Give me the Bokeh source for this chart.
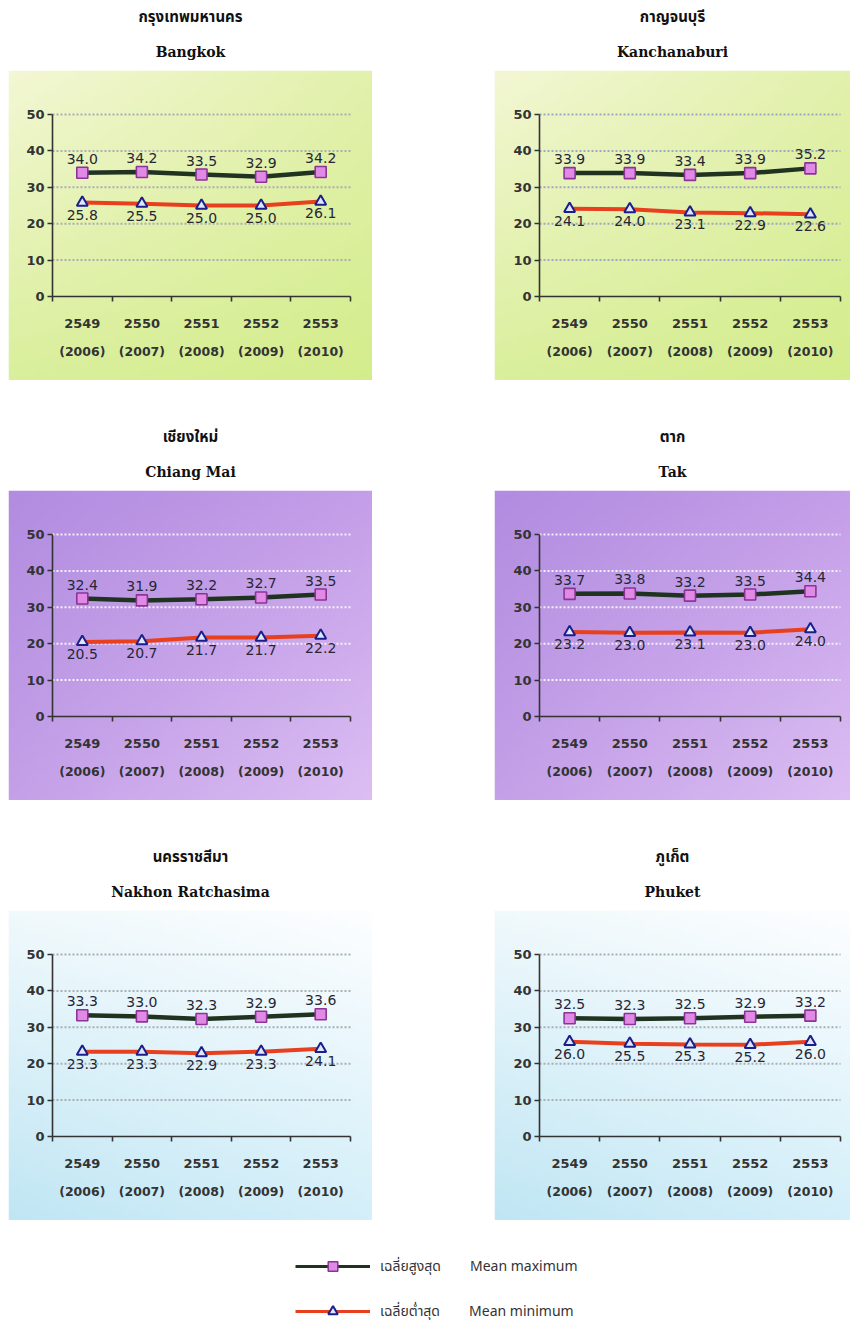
import numpy as np
from bokeh.plotting import figure
from bokeh.models import (Range1d, LinearAxis, FixedTicker, Title, ColumnDataSource,
                          Legend, LegendItem, Spacer)
from bokeh.layouts import column, row
from bokeh.core.properties import value
from bokeh.embed import file_html
from bokeh.resources import INLINE

# ---------------- data ----------------
x_pos = [1, 2, 3, 4, 5]
years_be = ["2549", "2550", "2551", "2552", "2553"]
years_ce = ["(2006)", "(2007)", "(2008)", "(2009)", "(2010)"]
y_ticks = [0, 10, 20, 30, 40, 50]

thai_names = ["กรุงเทพมหานคร", "กาญจนบุรี", "เชียงใหม่", "ตาก", "นครราชสีมา", "ภูเก็ต"]
eng_names = ["Bangkok", "Kanchanaburi", "Chiang Mai", "Tak", "Nakhon Ratchasima", "Phuket"]

bangkok_max = [34.0, 34.2, 33.5, 32.9, 34.2]
bangkok_min = [25.8, 25.5, 25.0, 25.0, 26.1]
kanchanaburi_max = [33.9, 33.9, 33.4, 33.9, 35.2]
kanchanaburi_min = [24.1, 24.0, 23.1, 22.9, 22.6]
chiangmai_max = [32.4, 31.9, 32.2, 32.7, 33.5]
chiangmai_min = [20.5, 20.7, 21.7, 21.7, 22.2]
tak_max = [33.7, 33.8, 33.2, 33.5, 34.4]
tak_min = [23.2, 23.0, 23.1, 23.0, 24.0]
nakhon_max = [33.3, 33.0, 32.3, 32.9, 33.6]
nakhon_min = [23.3, 23.3, 22.9, 23.3, 24.1]
phuket_max = [32.5, 32.3, 32.5, 32.9, 33.2]
phuket_min = [26.0, 25.5, 25.3, 25.2, 26.0]

legend_labels = ["เฉลี่ยสูงสุด        Mean maximum", "เฉลี่ยต่ำสุด        Mean minimum"]

# ---------------- styles ----------------
THAI_FONT = "Noto Sans Thai, Noto Sans, Loma, sans-serif"
EN_TITLE_FONT = "DejaVu Serif"
NUM_FONT = "DejaVu Sans"

GREEN = dict(tl=(243, 247, 212), tr=(226, 241, 172), bl=(218, 239, 156), br=(212, 237, 140))
PURPLE = dict(tl=(178, 140, 224), tr=(196, 158, 232), bl=(196, 160, 232), br=(220, 190, 243))
BLUE = dict(tl=(240, 249, 252), tr=(253, 254, 255), bl=(192, 230, 244), br=(212, 239, 249))

MAX_LINE = "#1f3320"
MIN_LINE = "#e8401e"
SQ_FILL, SQ_LINE = "#e08ae6", "#8a3596"
TRI_FILL, TRI_LINE = "#dfe6ff", "#1b1f8a"

BOX_H = 310
TITLE_H = 70


def gradient(c, n=64):
    u = np.linspace(0, 1, n)
    X, Y = np.meshgrid(u, u)  # row 0 = bottom
    tl, tr, bl, br = (np.array(c[k], dtype=float) for k in ("tl", "tr", "bl", "br"))
    img = np.empty((n, n), dtype=np.uint32)
    view = img.view(dtype=np.uint8).reshape((n, n, 4))
    for ch in range(3):
        v = (bl[ch] * (1 - X) * (1 - Y) + br[ch] * X * (1 - Y)
             + tl[ch] * (1 - X) * Y + tr[ch] * X * Y)
        view[:, :, ch] = np.clip(v, 0, 255).astype(np.uint8)
    view[:, :, 3] = 255
    return img


def style_axis(ax, size="12px"):
    ax.major_label_text_font = NUM_FONT
    ax.major_label_text_font_size = size
    ax.major_label_text_font_style = "bold"
    ax.major_label_text_color = "#333333"


def panel(thai, eng, vmax, vmin, colors, grid_color, width, ax_l, ax_r):
    ppx = (ax_r - ax_l) / 5.0
    x0 = 0.5 - ax_l / ppx
    x1 = 5.5 + (width - ax_r) / ppx
    y50_px, y0_px = 44, 226
    ppy = (y0_px - y50_px) / 50.0
    y1 = 50 + y50_px / ppy
    y0 = -(BOX_H - y0_px) / ppy

    p = figure(width=width, height=BOX_H + TITLE_H,
               x_range=Range1d(x0, x1), y_range=Range1d(y0, y1),
               x_axis_location=None, y_axis_location=None,
               toolbar_location=None, output_backend="svg",
               min_border_left=0, min_border_right=0, min_border_bottom=0,
               min_border_top=TITLE_H, outline_line_color=None,
               border_fill_color="white")
    p.xgrid.visible = False
    p.ygrid.visible = False

    p.image_rgba(image=[gradient(colors)], x=x0, y=y0, dw=x1 - x0, dh=y1 - y0)

    # titles
    p.add_layout(Title(text=eng, align="center", text_font=EN_TITLE_FONT,
                       text_font_size="14px", text_font_style="bold",
                       text_color="#111111", standoff=22), "above")
    p.add_layout(Title(text=thai, align="center", text_font=THAI_FONT,
                       text_font_size="15px", text_font_style="bold",
                       text_color="#111111", standoff=3), "above")

    # dotted gridlines from the axis to the right end
    gy = y_ticks[1:]
    p.segment(x0=[0.5] * len(gy), x1=[5.5] * len(gy), y0=gy, y1=gy,
              line_color=grid_color, line_width=2, line_dash="2 2")

    # axes
    yax = LinearAxis(fixed_location=0.5, bounds=(0, 50),
                     ticker=FixedTicker(ticks=y_ticks, minor_ticks=[]))
    yax.axis_line_color = "#333333"
    yax.axis_line_width = 1.6
    yax.major_tick_line_color = "#333333"
    yax.major_tick_line_width = 1.6
    yax.major_tick_out = 5
    yax.major_tick_in = 0
    yax.minor_tick_line_color = None
    yax.major_label_standoff = 3
    style_axis(yax, "13px")
    p.add_layout(yax, "left")

    minor = [0.5, 1.5, 2.5, 3.5, 4.5, 5.5]
    xax = LinearAxis(fixed_location=0, bounds=(0.5, 5.5),
                     ticker=FixedTicker(ticks=x_pos, minor_ticks=minor),
                     major_label_overrides={x: s for x, s in zip(x_pos, years_be)})
    xax.axis_line_color = "#333333"
    xax.axis_line_width = 1.6
    xax.major_tick_out = 0
    xax.major_tick_in = 0
    xax.minor_tick_line_color = "#333333"
    xax.minor_tick_line_width = 1.6
    xax.minor_tick_out = 5
    xax.minor_tick_in = 0
    xax.major_label_standoff = 17
    style_axis(xax, "13px")
    p.add_layout(xax, "below")

    xax2 = LinearAxis(fixed_location=0, bounds=(0.5, 5.5),
                      ticker=FixedTicker(ticks=x_pos, minor_ticks=[]),
                      major_label_overrides={x: s for x, s in zip(x_pos, years_ce)})
    xax2.axis_line_color = None
    xax2.major_tick_line_color = None
    xax2.minor_tick_line_color = None
    xax2.major_tick_out = 0
    xax2.major_tick_in = 0
    xax2.major_label_standoff = 47
    style_axis(xax2, "12.5px")
    p.add_layout(xax2, "below")

    src = ColumnDataSource(dict(x=x_pos, ymax=vmax, ymin=vmin,
                                lmax=[f"{v:.1f}" for v in vmax],
                                lmin=[f"{v:.1f}" for v in vmin]))
    p.line("x", "ymax", source=src, line_color=MAX_LINE, line_width=4.5)
    p.line("x", "ymin", source=src, line_color=MIN_LINE, line_width=4)
    p.scatter("x", "ymax", source=src, marker="square", size=11,
              fill_color=SQ_FILL, line_color=SQ_LINE, line_width=1.6)
    p.scatter("x", "ymin", source=src, marker="triangle", size=11,
              fill_color=TRI_FILL, line_color=TRI_LINE, line_width=2)
    p.text("x", "ymax", text="lmax", source=src, text_align="center",
           text_baseline="bottom", y_offset=-9,
           text_font=value(NUM_FONT), text_font_size="14px", text_color="#262636")
    p.text("x", "ymin", text="lmin", source=src, text_align="center",
           text_baseline="top", y_offset=7,
           text_font=value(NUM_FONT), text_font_size="14px", text_color="#262636")
    return p


LW, RW = 364, 356
GAP = 122
LG = dict(width=LW, ax_l=44, ax_r=342)
RG = dict(width=RW, ax_l=45, ax_r=346)

p1 = panel(thai_names[0], eng_names[0], bangkok_max, bangkok_min, GREEN, "#a9aeb0", **LG)
p2 = panel(thai_names[1], eng_names[1], kanchanaburi_max, kanchanaburi_min, GREEN, "#9ea8c0", **RG)
p3 = panel(thai_names[2], eng_names[2], chiangmai_max, chiangmai_min, PURPLE, "#f4f0f8", **LG)
p4 = panel(thai_names[3], eng_names[3], tak_max, tak_min, PURPLE, "#f4f0f8", **RG)
p5 = panel(thai_names[4], eng_names[4], nakhon_max, nakhon_min, BLUE, "#a8b0b4", **LG)
p6 = panel(thai_names[5], eng_names[5], phuket_max, phuket_min, BLUE, "#a8b0b4", **RG)

# legend figure (legend renderers hold one point outside the visible range)
lf = figure(width=8 + LW + GAP + RW, height=100, x_range=Range1d(0, 1), y_range=Range1d(0, 1),
            x_axis_location=None, y_axis_location=None, toolbar_location=None,
            output_backend="svg", min_border=0, outline_line_color=None)
lf.xgrid.visible = False
lf.ygrid.visible = False
r1 = lf.line(x=[5, 6], y=[5, 5], line_color=MAX_LINE, line_width=3)
r1m = lf.scatter(x=[5], y=[5], marker="square", fill_color=SQ_FILL, line_color=SQ_LINE, line_width=1.5)
r2 = lf.line(x=[5, 6], y=[5, 5], line_color=MIN_LINE, line_width=3)
r2m = lf.scatter(x=[5], y=[5], marker="triangle", fill_color=TRI_FILL, line_color=TRI_LINE, line_width=2)
leg = Legend(items=[LegendItem(label=legend_labels[0], renderers=[r1, r1m]),
                    LegendItem(label=legend_labels[1], renderers=[r2, r2m])],
             location=(295, -3), glyph_width=75, glyph_height=24, spacing=21,
             padding=0, margin=0, label_standoff=10, border_line_color=None,
             background_fill_alpha=0, label_text_font=THAI_FONT,
             label_text_font_size="14px", label_text_color="#333333")
lf.add_layout(leg)

layout = column(
    row(Spacer(width=8), p1, Spacer(width=GAP), p2),
    Spacer(height=40),
    row(Spacer(width=8), p3, Spacer(width=GAP), p4),
    Spacer(height=40),
    row(Spacer(width=8), p5, Spacer(width=GAP), p6),
    lf,
)

open("out.html", "w").write(file_html(layout, INLINE))
